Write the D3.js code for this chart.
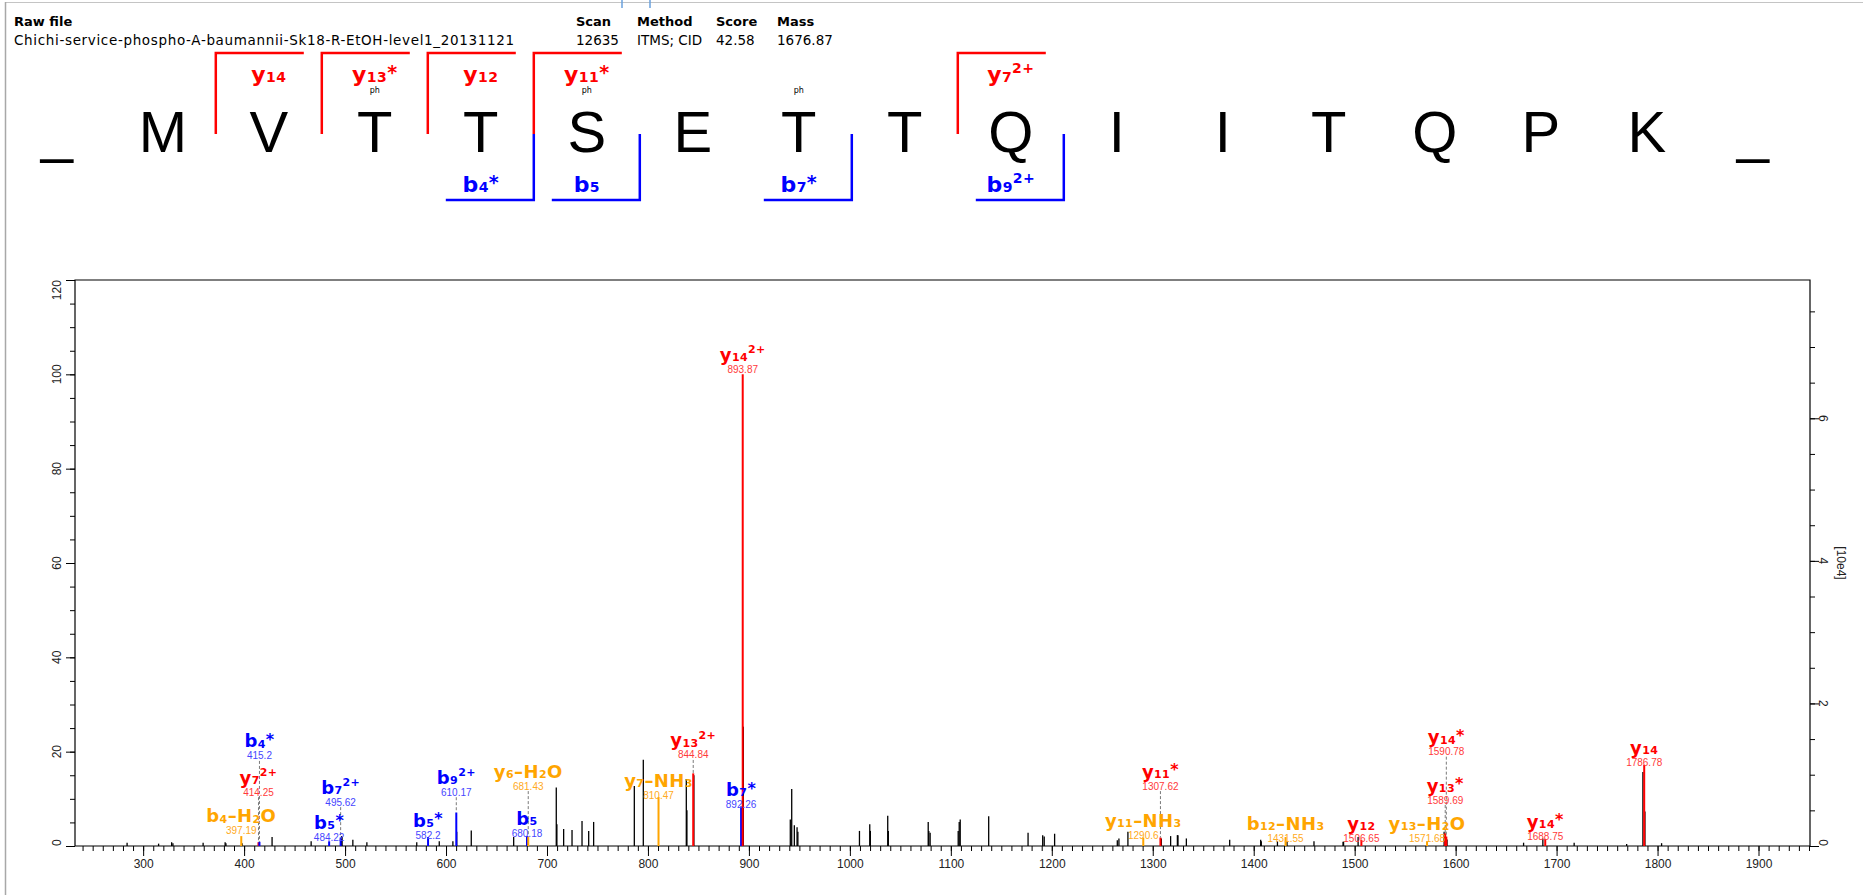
<!DOCTYPE html>
<html>
<head>
<meta charset="utf-8">
<title>Annotated MS/MS spectrum</title>
<script src="https://cdn.jsdelivr.net/npm/d3@7/dist/d3.min.js"></script>
<style>
  html, body { margin: 0; padding: 0; background: #ffffff; }
  svg { display: block; }
  .hdr { font-family: "DejaVu Sans", Verdana, sans-serif; fill: #000; }
  .residue { font-family: "Liberation Sans", Arial, sans-serif; fill: #000; }
  .tick-label { font-family: "Liberation Sans", Arial, sans-serif; font-size: 12px; fill: #222; }
  .ion { font-family: "DejaVu Sans", Verdana, sans-serif; font-weight: bold; letter-spacing: 0.4px; }
  .mz { font-family: "Liberation Sans", Arial, sans-serif; font-size: 10px; }
</style>
</head>
<body>
<svg id="chart" width="1863" height="895"></svg>
<script>
// ---------- run header ----------
const headerFields = ["Raw file", "Scan", "Method", "Score", "Mass"];
const headerValues = ["Chichi-service-phospho-A-baumannii-Sk18-R-EtOH-level1_20131121", "12635", "ITMS; CID", "42.58", "1676.87"];

// ---------- peptide sequence and fragment coverage ----------
const residues = ["_", "M", "V", "T", "T", "S", "E", "T", "T", "Q", "I", "I", "T", "Q", "P", "K", "_"];
const phosphoResidues = [3, 5, 7];
const yCoverage = ["y14", "y13*", "y12", "y11*", "y7^2+"];
const bCoverage = ["b4*", "b5", "b7*", "b9^2+"];

// ---------- unassigned peaks (m/z, relative intensity %) ----------
const rawMz = [284.1, 315.3, 328.2, 329.5, 359.4, 381.2, 382.0, 398.0, 427.7, 466.4,
  496.5, 497.0, 507.7, 521.6, 571.0, 593.3, 606.8, 610.6, 625.0, 667.0,
  709.2, 709.8, 716.5, 724.8, 734.7, 741.3, 746.2, 786.5, 795.4, 838.0,
  838.6, 845.5, 894.5, 941.0, 942.4, 945.0, 947.7, 948.5, 1009.5, 1019.7,
  1020.3, 1037.5, 1038.1, 1077.6, 1078.2, 1079.5, 1107.3, 1108.3, 1109.3, 1137.5,
  1176.5, 1191.0, 1192.5, 1202.8, 1264.9, 1266.5, 1275.4, 1308.5, 1317.7, 1324.4,
  1325.0, 1333.3, 1376.2, 1406.9, 1407.5, 1423.5, 1433.0, 1459.7, 1488.5, 1489.0,
  1503.4, 1588.6, 1591.5, 1667.3, 1686.4, 1717.4, 1769.4, 1785.5, 1787.5, 1804.0];
const rawIntensity = [0.7, 0.5, 0.8, 0.6, 0.7, 0.8, 0.6, 0.6, 1.9, 1.0,
  2.1, 1.9, 1.3, 0.8, 0.8, 1.0, 1.0, 3.0, 3.3, 1.9,
  12.4, 4.6, 3.6, 3.4, 5.3, 3.2, 5.1, 12.7, 18.3, 14.2,
  7.6, 15.0, 25.3, 5.6, 12.1, 4.4, 4.0, 3.0, 3.2, 4.6,
  3.2, 6.4, 3.2, 5.1, 3.2, 2.8, 3.2, 5.1, 5.6, 6.3,
  2.8, 2.3, 2.0, 2.6, 1.2, 1.6, 3.0, 1.6, 2.1, 2.3,
  2.3, 1.6, 1.3, 1.3, 1.0, 1.0, 1.0, 1.0, 0.9, 0.9,
  1.9, 3.0, 1.4, 0.7, 1.6, 0.7, 0.4, 15.7, 7.3, 0.6];

// ---------- assigned fragment peaks ----------
const ionMz = [397.19, 414.25, 415.2, 484.22, 495.62, 582.2, 610.17, 680.18, 681.43, 810.47,
  844.84, 892.26, 893.87, 1290.6, 1307.62, 1431.55, 1506.65, 1571.68, 1589.69, 1590.78,
  1688.75, 1786.78];
const ionIntensity = [2.1, 0.8, 0.9, 1.0, 1.8, 1.9, 7.1, 2.1, 1.9, 10.4,
  15.4, 8.4, 100, 1.8, 1.8, 1.9, 1.3, 1.0, 2.7, 2.0,
  1.5, 17.2];
const ionNames = ["b4-H2O", "y7^2+", "b4*", "b5*", "b7^2+", "b5*", "b9^2+", "b5", "y6-H2O", "y7-NH3",
  "y13^2+", "b7*", "y14^2+", "y11-NH3", "y11*", "b12-NH3", "y12", "y13-H2O", "y13*", "y14*",
  "y14*", "y14"];
// height (in % units) at which each annotation's m/z text sits
const ionLabelLevel = [3.2, 11.4, 19.1, 1.9, 9.3, 2.3, 11.4, 2.7, 12.7, 10.7,
  19.3, 8.8, 101.1, 2.3, 12.7, 1.6, 1.6, 1.6, 9.75, 20.0,
  2.1, 17.7];

// ---------- axis ticks ----------
const mzTicks = [300, 400, 500, 600, 700, 800, 900, 1000, 1100, 1200, 1300, 1400, 1500, 1600, 1700, 1800, 1900];
const intensityTicks = [0, 20, 40, 60, 80, 100, 120];
const absoluteTicks = [0, 2, 4, 6];

// ---------- layout ----------
const svg = d3.select("#chart");
const plot = { left: 75, right: 1810, top: 280, bottom: 846 };

const x = d3.scaleLinear().domain([232.5, 1951]).range([plot.left, plot.right]);
const y = d3.scaleLinear().domain([0, 120]).range([plot.bottom, plot.top]);
const yAbs = d3.scaleLinear().domain([0, 7.94]).range([plot.bottom, plot.top]);

const seqX = d3.scaleLinear().domain([0, 1]).range([56.8, 162.8]);

const seriesColor = { y: "#ff0000", b: "#0000ff", loss: "#ffa500" };
const mzColor = { y: "#ff3a3a", b: "#4646ff", loss: "#ffaa22" };

function parseIon(name) {
  const m = name.match(/^([by])(\d+)(\*|\^2\+)?(?:-(H2O|NH3))?$/);
  return {
    letter: m[1], index: m[2],
    charge: m[3] ? (m[3] === "*" ? "*" : "2+") : "",
    loss: m[4] || "",
    series: m[4] ? "loss" : m[1]
  };
}

// draws a fragment name such as y13²⁺ or b4–H2O with sub/superscripts
function drawIonName(g, ion, cx, baseline, size, color) {
  const sub = Math.round(size * 0.62);
  const t = g.append("text")
    .attr("class", "ion")
    .attr("x", cx).attr("y", baseline)
    .attr("text-anchor", "middle")
    .attr("fill", color)
    .style("font-size", size + "px");
  t.append("tspan").text(ion.letter);
  t.append("tspan").style("font-size", sub + "px").attr("dy", size * 0.02).text(ion.index);
  let shift = size * 0.02;
  if (ion.charge === "*") {
    const up = -size * 0.12;
    t.append("tspan").style("font-size", Math.round(size * 0.88) + "px").attr("dy", up - shift).text("*");
    shift = up;
  } else if (ion.charge) {
    const up = -size * 0.42;
    t.append("tspan").style("font-size", sub + "px").attr("dy", up - shift).text(ion.charge);
    shift = up;
  }
  if (ion.loss) {
    const parts = ion.loss === "H2O" ? ["\u2013H", "2", "O"] : ["\u2013NH", "3", ""];
    t.append("tspan").attr("dy", -shift).text(parts[0]);
    t.append("tspan").style("font-size", sub + "px").attr("dy", size * 0.02).text(parts[1]);
    if (parts[2]) t.append("tspan").attr("dy", -size * 0.02).text(parts[2]);
  }
  return t;
}

// ---------- window edges ----------
svg.append("line").attr("x1", 5).attr("x2", 1863).attr("y1", 2.5).attr("y2", 2.5)
  .attr("stroke", "#c4c4c4").attr("stroke-width", 1);
svg.append("line").attr("x1", 5.5).attr("x2", 5.5).attr("y1", 2).attr("y2", 895)
  .attr("stroke", "#a8a8a8").attr("stroke-width", 1.5);
[622, 650].forEach(px => svg.append("line")
  .attr("x1", px).attr("x2", px).attr("y1", 0).attr("y2", 8)
  .attr("stroke", "#6aa0dc").attr("stroke-width", 1.5));

// ---------- header table ----------
const headerX = [14, 576, 637, 716, 777];
const hdr = svg.append("g");
headerFields.forEach((f, i) => {
  hdr.append("text").attr("class", "hdr").attr("x", headerX[i]).attr("y", 26)
    .style("font-size", "13px").style("font-weight", "bold").text(f);
  const v = hdr.append("text").attr("class", "hdr").attr("x", headerX[i]).attr("y", 45)
    .style("font-size", "13.5px").text(headerValues[i]);
  if (i === 0) v.attr("textLength", 500).attr("lengthAdjust", "spacing");
});

// ---------- sequence with fragment brackets ----------
const seq = svg.append("g");
residues.forEach((r, i) => {
  seq.append("text").attr("class", "residue")
    .attr("x", seqX(i)).attr("y", 152)
    .attr("text-anchor", "middle")
    .style("font-size", "58px")
    .text(r);
});
phosphoResidues.forEach(i => {
  seq.append("text").attr("class", "hdr")
    .attr("x", seqX(i)).attr("y", 93)
    .attr("text-anchor", "middle")
    .style("font-size", "8px")
    .text("ph");
});
const bracketLen = 88;
yCoverage.forEach(name => {
  const ion = parseIon(name);
  const k = residues.length - 2 - (+ion.index);
  const bx = seqX(k + 0.5);
  seq.append("path")
    .attr("d", `M${bx},134 V53 H${bx + bracketLen}`)
    .attr("fill", "none").attr("stroke", seriesColor.y).attr("stroke-width", 2.5);
  drawIonName(seq, ion, seqX(k + 1), 82, 22, seriesColor.y);
});
bCoverage.forEach(name => {
  const ion = parseIon(name);
  const k = +ion.index;
  const bx = seqX(k + 0.5);
  seq.append("path")
    .attr("d", `M${bx},134 V200 H${bx - bracketLen}`)
    .attr("fill", "none").attr("stroke", seriesColor.b).attr("stroke-width", 2.5);
  drawIonName(seq, ion, seqX(k), 192, 22, seriesColor.b);
});

// ---------- axes ----------
const axes = svg.append("g");
// x axis: minor every 10, major every 100
axes.append("g").attr("transform", `translate(0,${plot.bottom})`)
  .call(d3.axisBottom(x).tickValues(d3.range(240, 1951, 10)).tickSize(5).tickFormat(""))
  .call(g => g.select(".domain").remove());
axes.append("g").attr("transform", `translate(0,${plot.bottom})`)
  .call(d3.axisBottom(x).tickValues(mzTicks).tickSize(10).tickPadding(3).tickFormat(d3.format("d")))
  .call(g => g.select(".domain").remove())
  .call(g => g.selectAll("text").attr("class", "tick-label").attr("fill", null).style("font-size", null).style("font-family", null));

// left axis: minor every 5, labelled every 20
axes.append("g").attr("transform", `translate(${plot.left},0)`)
  .call(d3.axisLeft(y).tickValues(d3.range(0, 121, 5)).tickSize(5).tickFormat(""))
  .call(g => g.select(".domain").remove());
axes.append("g").attr("transform", `translate(${plot.left},0)`)
  .call(d3.axisLeft(y).tickValues(intensityTicks).tickSize(9).tickFormat(""))
  .call(g => g.select(".domain").remove());
intensityTicks.forEach(v => {
  const half = String(v).length * 3.4;
  const cy = Math.max(plot.top + half, Math.min(plot.bottom - half, y(v)));
  axes.append("text").attr("class", "tick-label")
    .attr("transform", `translate(57,${cy}) rotate(-90)`)
    .attr("text-anchor", "middle").attr("dy", "0.35em")
    .text(v);
});

// right axis: absolute intensity in units of 10^4
axes.append("g").attr("transform", `translate(${plot.right},0)`)
  .call(d3.axisRight(yAbs).tickValues(d3.range(0, 7.9, 0.5)).tickSize(5).tickFormat(""))
  .call(g => g.select(".domain").remove());
axes.append("g").attr("transform", `translate(${plot.right},0)`)
  .call(d3.axisRight(yAbs).tickValues(absoluteTicks).tickSize(9).tickFormat(""))
  .call(g => g.select(".domain").remove());
absoluteTicks.forEach(v => {
  const half = 3.4;
  const cy = Math.max(plot.top + half, Math.min(plot.bottom - half, yAbs(v)));
  axes.append("text").attr("class", "tick-label")
    .attr("transform", `translate(1823,${cy}) rotate(90)`)
    .attr("text-anchor", "middle").attr("dy", "0.35em")
    .text(v);
});
axes.append("text").attr("class", "tick-label")
  .attr("transform", `translate(1841,${(plot.top + plot.bottom) / 2}) rotate(90)`)
  .attr("text-anchor", "middle").attr("dy", "0.35em")
  .text("[10e4]");

// frame
axes.append("path")
  .attr("d", `M${plot.left},${plot.bottom} V${plot.top} H${plot.right} V${plot.bottom} Z`)
  .attr("fill", "none").attr("stroke", "#000").attr("stroke-width", 1.2);

// ---------- spectrum ----------
const spec = svg.append("g");
spec.selectAll("line.raw")
  .data(d3.zip(rawMz, rawIntensity))
  .join("line").attr("class", "raw")
  .attr("x1", d => x(d[0])).attr("x2", d => x(d[0]))
  .attr("y1", y(0)).attr("y2", d => y(d[1]))
  .attr("stroke", "#000").attr("stroke-width", 1.3);

const ions = ionMz.map((mz, i) => ({
  mz, intensity: ionIntensity[i], level: ionLabelLevel[i], ion: parseIon(ionNames[i])
}));

// dashed connectors from annotations down to their peaks
const ann = svg.append("g");
ions.forEach(d => {
  const top = y(d.intensity);
  const from = y(d.level) + 5;
  if (top - from > 2) {
    ann.append("line")
      .attr("x1", x(d.mz)).attr("x2", x(d.mz))
      .attr("y1", from).attr("y2", top)
      .attr("stroke", "#7a7a7a").attr("stroke-width", 1)
      .attr("stroke-dasharray", "3,2");
  }
});

spec.selectAll("line.ion")
  .data(ions)
  .join("line").attr("class", "ion")
  .attr("x1", d => x(d.mz)).attr("x2", d => x(d.mz))
  .attr("y1", y(0)).attr("y2", d => y(d.intensity))
  .attr("stroke", d => seriesColor[d.ion.series]).attr("stroke-width", 2);

ions.forEach(d => {
  const cy = y(d.level);
  ann.append("text").attr("class", "mz")
    .attr("x", x(d.mz)).attr("y", cy + 3.5)
    .attr("text-anchor", "middle")
    .attr("fill", mzColor[d.ion.series])
    .text(String(d.mz));
  drawIonName(ann, d.ion, x(d.mz), cy - 8.5, 18, seriesColor[d.ion.series]);
});
</script>
</body>
</html>
